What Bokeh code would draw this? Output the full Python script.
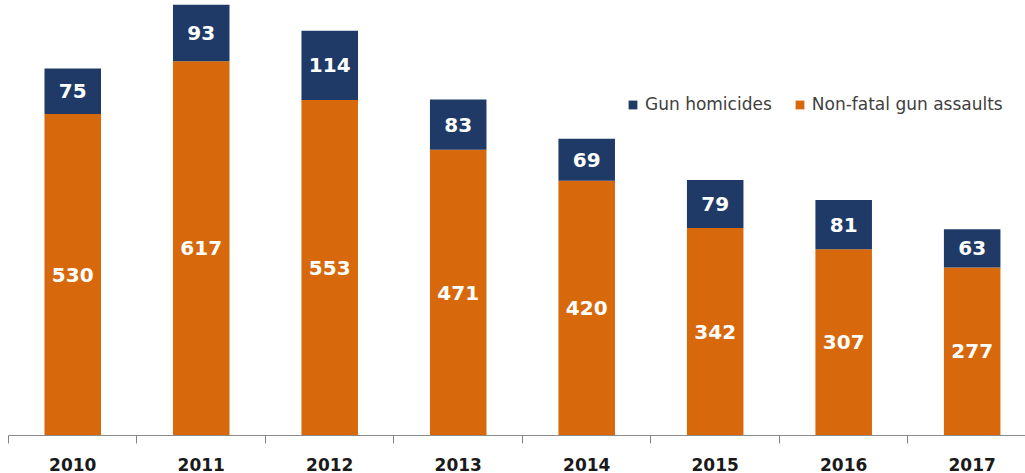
from bokeh.plotting import figure
from bokeh.models import ColumnDataSource, FixedTicker, Legend, LegendItem, LabelSet
from bokeh.core.properties import value
from bokeh.embed import file_html
from bokeh.resources import INLINE

years = ["2010", "2011", "2012", "2013", "2014", "2015", "2016", "2017"]
nonfatal = [530, 617, 553, 471, 420, 342, 307, 277]
homicides = [75, 93, 114, 83, 69, 79, 81, 63]

ORANGE = "#D8680C"
NAVY = "#1F3A66"

n = len(years)
centers = [i + 0.5 for i in range(n)]
src = ColumnDataSource(dict(
    x=centers,
    nf=nonfatal,
    hom=homicides,
    total=[a + b for a, b in zip(nonfatal, homicides)],
    nf_mid=[a / 2 for a in nonfatal],
    hom_mid=[a + b / 2 for a, b in zip(nonfatal, homicides)],
    nf_txt=[str(v) for v in nonfatal],
    hom_txt=[str(v) for v in homicides],
))

p = figure(frame_width=1017, frame_height=435, output_backend="svg",
           toolbar_location=None, x_range=(0, 7.915), y_range=(0, 717),
           min_border_left=8, min_border_right=0, min_border_top=0,
           min_border_bottom=38)
p.outline_line_color = None
p.xgrid.visible = False
p.ygrid.visible = False
p.yaxis.visible = False
p.background_fill_color = "white"

r_nf = p.vbar(x="x", width=0.44, bottom=0, top="nf", source=src,
              fill_color=ORANGE, line_color=None)
r_h = p.vbar(x="x", width=0.44, bottom="nf", top="total", source=src,
             fill_color=NAVY, line_color=None)

for col, ycol in (("nf_txt", "nf_mid"), ("hom_txt", "hom_mid")):
    p.add_layout(LabelSet(x="x", y=ycol, text=col, source=src,
                          text_align="center", text_baseline="middle",
                          text_color="white", text_font=value("DejaVu Sans"),
                          text_font_style="bold", text_font_size="20px"))

xa = p.xaxis[0]
xa.ticker = FixedTicker(ticks=centers, minor_ticks=list(range(n + 1)))
xa.major_label_overrides = {c: y for c, y in zip(centers, years)}
xa.major_tick_line_color = None
xa.major_tick_out = 0
xa.major_tick_in = 0
xa.minor_tick_out = 8
xa.minor_tick_in = 0
xa.minor_tick_line_color = "#808080"
xa.axis_line_color = "#8C8C8C"
xa.major_label_text_font = "DejaVu Sans"
xa.major_label_text_font_style = "bold"
xa.major_label_text_font_size = "17px"
xa.major_label_text_color = "#1A1A1A"
xa.major_label_standoff = 14

legend = Legend(items=[LegendItem(label="Gun homicides", renderers=[r_h]),
                       LegendItem(label="Non-fatal gun assaults", renderers=[r_nf])],
                orientation="horizontal", location=(619, 321),
                glyph_width=11, glyph_height=11, label_text_font="DejaVu Sans",
                label_text_font_size="17px", label_text_color="#404040",
                label_standoff=7, spacing=22, padding=0, margin=0,
                border_line_color=None, background_fill_alpha=0)
p.add_layout(legend)

open("out.html", "w").write(file_html(p, INLINE))
